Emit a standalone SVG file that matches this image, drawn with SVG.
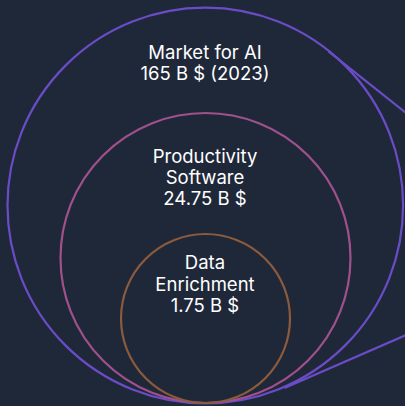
<svg xmlns="http://www.w3.org/2000/svg" width="405" height="406" viewBox="0 0 405 406">
  <style>
    .ring { fill: none; stroke-width: 2.2; }
    .label { font-family: Inter, "Liberation Sans", sans-serif; font-size: 18.5px; font-weight: 400; fill: #ffffff; text-anchor: middle; }
  </style>
  <rect x="0" y="0" width="405" height="406" fill="#1f2839"/>

  <!-- callout lines tangent to the outer ring -->
  <g id="connectors" stroke="#6a4cc6" stroke-width="2.2" fill="none">
    <line x1="328.5" y1="51.3" x2="420" y2="124"/>
    <line x1="284.5" y1="388" x2="420" y2="329"/>
  </g>

  <g id="market">
    <circle class="ring" cx="205.3" cy="205.5" r="197.8" stroke="#6a4cc6"/>
    <text class="label" x="205" y="58.5">Market for AI</text>
    <text class="label" x="205" y="79.5">165 B $ (2023)</text>
  </g>

  <g id="productivity">
    <circle class="ring" cx="205.5" cy="258" r="145" stroke="#a0508c"/>
    <text class="label" x="205" y="162.5">Productivity</text>
    <text class="label" x="205" y="183.5">Software</text>
    <text class="label" x="205" y="204.5">24.75 B $</text>
  </g>

  <g id="enrichment">
    <circle class="ring" cx="205.5" cy="318.5" r="84.5" stroke="#8c5a3c"/>
    <text class="label" x="205" y="269">Data</text>
    <text class="label" x="205" y="290.5">Enrichment</text>
    <text class="label" x="205" y="311.5">1.75 B $</text>
  </g>
</svg>
